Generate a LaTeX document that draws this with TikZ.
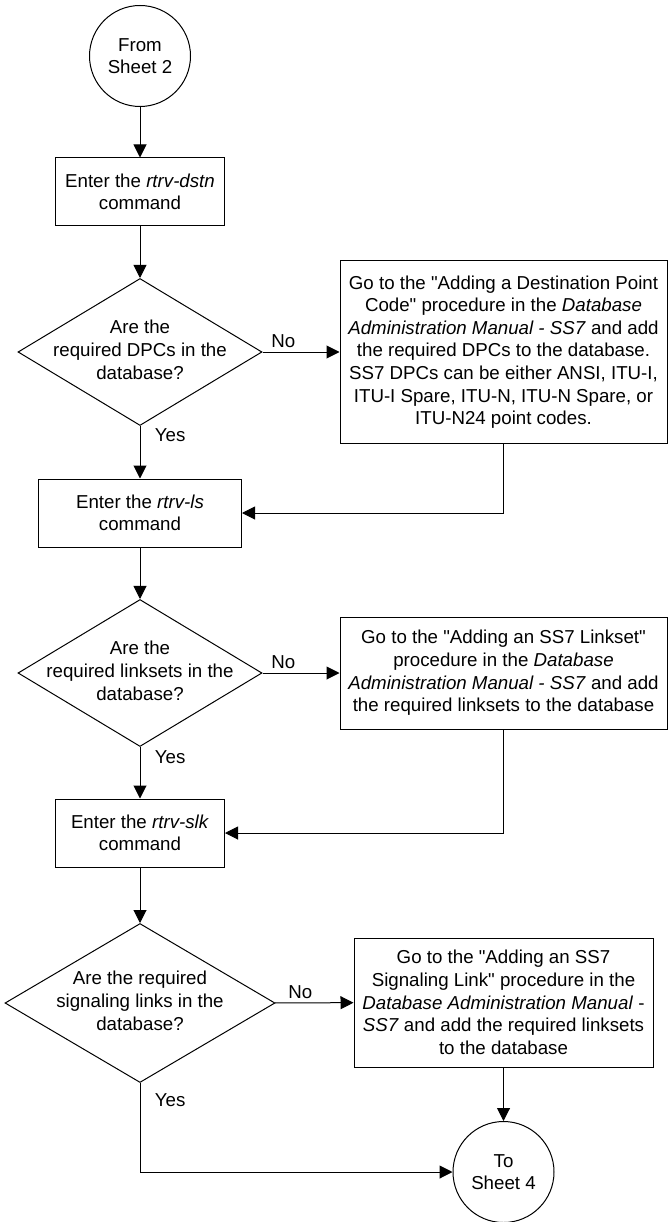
\documentclass[tikz,border=0pt]{standalone}
\usepackage{fontspec}
\setmainfont{Liberation Sans}
\usetikzlibrary{shapes.geometric,arrows.meta,positioning}

% question text that does not widen the diamond
\newcommand{\qlines}[1]{\makebox[0pt]{\begin{tabular}{@{}c@{}}#1\end{tabular}}}
% straight double quote
\newcommand{\dq}{\textquotedbl}

\begin{document}
\begin{tikzpicture}[
  x=1pt,
  y=-1pt,
  every node/.style={font={\fontsize{18.7}{22.6}\selectfont}},
  connector/.style={circle, draw=black, line width=1pt, minimum size=101pt, inner sep=0pt, align=center},
  stepbox/.style={rectangle, draw=black, line width=1pt, inner sep=0pt, align=center},
  decision/.style={diamond, draw=black, line width=1pt, inner sep=0pt},
  flow/.style={draw=black, line width=1pt, -{Triangle[length=13pt, width=13pt]}}
]
  \useasboundingbox (0,0) rectangle (670,1222);

  % left column
  \node[connector] (from2) at (140,56) {From\\Sheet 2};
  \node[stepbox, minimum width=169pt, minimum height=68pt] (dstn) at (140,192)
    {Enter the \textit{rtrv-dstn}\\command};
  \node[decision, minimum width=244pt, minimum height=147pt] (dpcq) at (140,352)
    {\qlines{Are the\\required DPCs in the\\database?}};
  \node[stepbox, minimum width=203pt, minimum height=68pt] (ls) at (140,513)
    {Enter the \textit{rtrv-ls}\\command};
  \node[decision, minimum width=244pt, minimum height=147pt] (lsq) at (140,673)
    {\qlines{Are the\\required linksets in the\\database?}};
  \node[stepbox, minimum width=169pt, minimum height=68pt] (slk) at (140,833)
    {Enter the \textit{rtrv-slk}\\command};
  \node[decision, minimum width=270pt, minimum height=159pt] (slkq) at (140,1003)
    {\qlines{Are the required\\signaling links in the\\database?}};

  % right column
  \node[stepbox, minimum width=327pt, minimum height=182pt] (dpcadd) at (503.5,352)
    {Go to the \dq Adding a Destination Point\\
     Code\dq{} procedure in the \textit{Database}\\
     \textit{Administration Manual - SS7} and add\\
     the required DPCs to the database.\\
     SS7 DPCs can be either ANSI, ITU-I,\\
     ITU-I Spare, ITU-N, ITU-N Spare, or\\
     ITU-N24 point codes.};
  \node[stepbox, minimum width=327pt, minimum height=112pt] (lsadd) at (503.5,673)
    {Go to the \dq Adding an SS7 Linkset\dq\\
     procedure in the \textit{Database}\\
     \textit{Administration Manual - SS7} and add\\
     the required linksets to the database};
  \node[stepbox, minimum width=299pt, minimum height=129pt] (slkadd) at (503.5,1002.5)
    {Go to the \dq Adding an SS7\\
     Signaling Link\dq{} procedure in the\\
     \textit{Database Administration Manual} -\\
     \textit{SS7} and add the required linksets\\
     to the database};
  \node[connector] (to4) at (503.5,1172) {To\\Sheet 4};

  % connectors
  \draw[flow] (from2) -- (dstn);
  \draw[flow] (dstn) -- (dpcq);
  \draw[flow] (dpcq) -- node[above, pos=0.27] {No} (dpcadd);
  \draw[flow] (dpcq) -- node[right, pos=0.18, xshift=11pt] {Yes} (ls);
  \draw[flow] (dpcadd.south) |- (ls.east);

  \draw[flow] (ls) -- (lsq);
  \draw[flow] (lsq) -- node[above, pos=0.27] {No} (lsadd);
  \draw[flow] (lsq) -- node[right, pos=0.2, xshift=11pt] {Yes} (slk);
  \draw[flow] (lsadd.south) |- (slk.east);

  \draw[flow] (slk) -- (slkq);
  \draw[flow] (slkq) -- node[above, pos=0.32] {No} (slkadd);
  \draw[flow] (slkadd) -- (to4);
  \draw[flow] (slkq.south) |- node[right, pos=0.094, xshift=11pt] {Yes} (to4.west);
\end{tikzpicture}
\end{document}
